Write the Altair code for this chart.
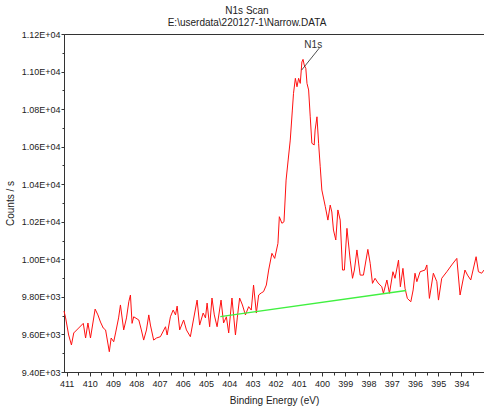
import altair as alt
import pandas as pd

# N1s narrow scan: binding energy (eV) and intensity (counts/s)
energy = [411.11, 411.04, 410.91, 410.79, 410.69, 410.48, 410.28, 410.18, 410.08, 409.97,
          409.77, 409.65, 409.54, 409.42, 409.32, 409.16, 409.08, 408.97, 408.89, 408.76,
          408.68, 408.54, 408.42, 408.32, 408.25, 408.18, 408.11, 407.89, 407.78, 407.68,
          407.56, 407.46, 407.39, 407.25, 407.13, 406.96, 406.74, 406.67, 406.53, 406.41,
          406.31, 406.24, 406.13, 405.96, 405.84, 405.67, 405.54, 405.38, 405.27, 405.12,
          405.02, 404.95, 404.84, 404.74, 404.64, 404.52, 404.35, 404.24, 404.12, 404.02,
          403.88, 403.73, 403.65, 403.55, 403.43, 403.30, 403.16, 403.05, 402.95, 402.83,
          402.73, 402.62, 402.52, 402.40, 402.30, 402.16, 402.04, 401.90, 401.84, 401.73,
          401.64, 401.55, 401.46, 401.37, 401.28, 401.23, 401.15, 401.08, 401.01, 400.94,
          400.87, 400.82, 400.77, 400.70, 400.65, 400.58, 400.51, 400.44, 400.34, 400.30,
          400.22, 400.15, 400.08, 400.01, 399.86, 399.75, 399.65, 399.58, 399.51, 399.41,
          399.32, 399.22, 399.12, 399.04, 398.93, 398.79, 398.69, 398.61, 398.50, 398.36,
          398.22, 398.03, 397.93, 397.83, 397.72, 397.59, 397.43, 397.36, 397.21, 397.10,
          396.95, 396.86, 396.71, 396.63, 396.52, 396.43, 396.33, 396.18, 396.08, 396.00,
          395.92, 395.78, 395.57, 395.49, 395.38, 395.21, 395.06, 394.99, 394.85, 394.63,
          394.42, 394.20, 394.06, 393.85, 393.74, 393.60, 393.37, 393.27, 393.13, 393.03]
counts = [9725, 9688, 9597, 9544, 9608, 9634, 9659, 9581, 9661, 9581,
          9735, 9704, 9666, 9634, 9624, 9508, 9581, 9561, 9608, 9688,
          9757, 9624, 9688, 9774, 9810, 9659, 9694, 9677, 9624, 9570,
          9624, 9704, 9650, 9570, 9581, 9588, 9641, 9597, 9694, 9730,
          9704, 9751, 9624, 9677, 9624, 9588, 9677, 9783, 9650, 9714,
          9688, 9767, 9641, 9794, 9704, 9641, 9783, 9661, 9694, 9608,
          9794, 9597, 9688, 9794, 9757, 9704, 9748, 9730, 9863, 9714,
          9810, 9821, 9828, 9863, 9943, 10032, 10005, 10085, 10227, 10192,
          10200, 10422, 10529, 10635, 10795, 10884, 10964, 10919, 10964, 10937,
          11051, 11065, 11035, 11017, 10937, 10902, 10759, 10618, 10609, 10689,
          10759, 10618, 10493, 10369, 10280, 10209, 10289, 10252, 10156, 10103,
          10263, 10209, 9943, 9943, 10165, 9996, 9899, 9943, 10050, 9916,
          9916, 10053, 9979, 9872, 9899, 9874, 9854, 9819, 9890, 9819,
          9934, 9899, 9996, 9854, 9952, 9846, 9792, 9774, 9837, 9926,
          9881, 9934, 9943, 9970, 9792, 9926, 9881, 9783, 9899, 9934,
          9970, 10005, 9810, 9943, 9916, 9890, 10014, 9934, 9926, 9943]

# Linear background under the peak
bg_energy = [404.38, 396.38]
bg_counts = [9695, 9834]

# Peak label and its leader line
label_text = ["N1s"]
label_energy = [400.38]
label_counts = [11141]
leader_energy = [400.12, 400.88]
leader_counts = [11125, 11008]

x_major = list(range(411, 393, -1))
x_minor = [v + 0.5 for v in range(393, 411)]
y_major = list(range(9400, 11201, 200))
y_minor = list(range(9500, 11200, 200))

spectrum = pd.DataFrame({"E": energy, "C": counts, "idx": range(len(energy))})
background = pd.DataFrame({"E": bg_energy, "C": bg_counts})
label_df = pd.DataFrame({"E": label_energy, "C": label_counts, "t": label_text})
leader_df = pd.DataFrame({"E": leader_energy, "C": leader_counts, "o": [0, 1]})

FONT = "Liberation Sans"
xscale = alt.Scale(domain=[411.11, 393.03], nice=False, zero=False)
yscale = alt.Scale(domain=[9400, 11200], nice=False, zero=False)

# Labels like 1.12E+04
sci_expr = ("format(datum.value / pow(10, floor(log(datum.value) / LN10 + 1e-9)), '.2f')"
            " + 'E+0' + floor(log(datum.value) / LN10 + 1e-9)")

red = alt.Chart(spectrum).mark_line(color="#ff1010", strokeWidth=1).encode(
    x=alt.X("E:Q", scale=xscale,
            axis=alt.Axis(values=x_major, format="d", title="Binding Energy (eV)",
                          tickSize=4, labelPadding=3, titlePadding=7,
                          domainColor="#333", tickColor="#333", grid=False)),
    y=alt.Y("C:Q", scale=yscale,
            axis=alt.Axis(values=y_major, labelExpr=sci_expr, title="Counts / s",
                          tickSize=3, labelPadding=1, titlePadding=6,
                          domainColor="#333", tickColor="#333", grid=False)),
    order=alt.Order("idx:Q"),
)

green = alt.Chart(background).mark_line(color="#40f040", strokeWidth=1.3).encode(
    x=alt.X("E:Q", scale=xscale,
            axis=alt.Axis(values=x_minor, orient="bottom", labels=False, title=None,
                          domain=False, tickSize=3, tickColor="#333", grid=False)),
    y=alt.Y("C:Q", scale=yscale,
            axis=alt.Axis(values=y_minor, orient="left", labels=False, title=None,
                          domain=False, tickSize=2, tickColor="#333", grid=False)),
)

leader = alt.Chart(leader_df).mark_line(color="#222", strokeWidth=0.8).encode(
    x=alt.X("E:Q", scale=xscale, axis=None),
    y=alt.Y("C:Q", scale=yscale, axis=None),
    order="o:Q",
)

label = alt.Chart(label_df).mark_text(font=FONT, fontSize=10, color="#333",
                                      baseline="middle", align="center").encode(
    x=alt.X("E:Q", scale=xscale, axis=None),
    y=alt.Y("C:Q", scale=yscale, axis=None),
    text="t:N",
)

chart = alt.layer(red, green, leader, label).resolve_axis(
    x="independent", y="independent"
).properties(
    width=420,
    height=338,
    background="white",
    autosize=alt.AutoSizeParams(type="none"),
    padding={"left": 64, "top": 34, "right": 0, "bottom": 42},
    title=alt.TitleParams(
        ["N1s Scan", "E:\\userdata\\220127-1\\Narrow.DATA"],
        anchor="middle", dx=-27, offset=2, fontSize=10, lineHeight=12.5,
        font=FONT, fontWeight="normal", color="#222",
    ),
).configure_view(
    stroke="#333", strokeWidth=1
).configure_axis(
    labelFont=FONT, labelFontSize=9, labelColor="#222",
    titleFont=FONT, titleFontSize=10, titleFontWeight="normal", titleColor="#222",
    domainWidth=1,
)

chart.save("out.html", embed_options={"renderer": "svg", "actions": False})
